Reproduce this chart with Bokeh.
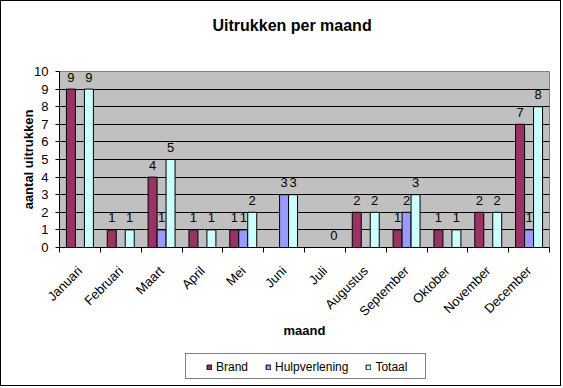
import numpy as np
from bokeh.plotting import figure
from bokeh.layouts import column
from bokeh.models import Range1d, FixedTicker, ColumnDataSource, Legend, LegendItem, Title
from bokeh.transform import dodge
from bokeh.core.properties import value
from bokeh.embed import file_html
from bokeh.resources import INLINE

months = ["Januari", "Februari", "Maart", "April", "Mei", "Juni", "Juli",
          "Augustus", "September", "Oktober", "November", "December"]
brand = [9, 1, 4, 1, 1, None, None, 2, 1, 1, 2, 7]
hulpverlening = [None, None, 1, None, 1, 3, None, None, 2, None, None, 1]
totaal = [9, 1, 5, 1, 2, 3, 0, 2, 3, 1, 2, 8]
series_names = ["Brand", "Hulpverlening", "Totaal"]
series_colors = ["#993366", "#9999FF", "#CCFFFF"]
y_ticks = list(range(0, 11))

FONT = "Liberation Sans"

p = figure(width=559, height=344, x_range=Range1d(0, len(months)), y_range=Range1d(0, 10),
           output_backend="svg", toolbar_location=None,
           min_border_left=58, min_border_right=11, min_border_top=70, min_border_bottom=98,
           background_fill_color="#C0C0C0", border_fill_color="white")
p.outline_line_color = "#808080"
p.outline_line_width = 1

# spacer + title
p.add_layout(Title(text=" ", text_font_size="13px", standoff=21), "above")
p.add_layout(Title(text="Uitrukken per maand", align="left", offset=153, standoff=0,
                   text_font=FONT, text_font_size="16px", text_font_style="bold",
                   text_color="black"), "above")

pos = np.arange(len(months)) + 0.5
bw = 0.22
offsets = [-bw, 0.0, bw]
for vals, name, col, off in zip([brand, hulpverlening, totaal], series_names, series_colors, offsets):
    top = np.array([np.nan if v is None else v for v in vals], dtype=float)
    src = ColumnDataSource(dict(x=pos, top=top))
    p.vbar(x=dodge("x", off, range=p.x_range), top="top", width=bw, bottom=0, source=src,
           fill_color=col, line_color="black", line_width=1)
    mask = ~np.isnan(top)
    lsrc = ColumnDataSource(dict(x=pos[mask], top=top[mask],
                                 label=[str(int(v)) for v in top[mask]]))
    p.text(x=dodge("x", off, range=p.x_range), y="top", text="label", source=lsrc,
           text_align="center", text_baseline="alphabetic", y_offset=-12,
           text_font=value(FONT), text_font_size="13px", text_color="black")

# axes
p.xaxis.ticker = FixedTicker(ticks=list(pos), minor_ticks=list(range(len(months) + 1)))
p.xaxis.major_label_overrides = {float(x): m for x, m in zip(pos, months)}
p.xaxis.major_tick_out = 0
p.xaxis.major_tick_in = 0
p.xaxis.minor_tick_out = 5
p.xaxis.minor_tick_in = 0
p.xaxis.minor_tick_line_color = "black"
p.xaxis.major_label_orientation = np.pi / 4
p.xaxis.major_label_standoff = 16
p.xaxis.axis_label = "maand"
p.xaxis.axis_label_standoff = -4

p.yaxis.ticker = FixedTicker(ticks=y_ticks, minor_ticks=[])
p.yaxis.major_tick_out = 4
p.yaxis.major_tick_in = 0
p.yaxis.major_label_standoff = 7
p.yaxis.axis_label = "aantal uitrukken"
p.yaxis.axis_label_standoff = -5

for ax in (p.xaxis[0], p.yaxis[0]):
    ax.axis_line_color = "black"
    ax.major_tick_line_color = "black"
    ax.major_label_text_font = FONT
    ax.major_label_text_font_size = "13px"
    ax.major_label_text_color = "black"
    ax.axis_label_text_font = FONT
    ax.axis_label_text_font_size = "13px"
    ax.axis_label_text_font_style = "bold"
    ax.axis_label_text_color = "black"

p.xgrid.visible = False
p.ygrid.ticker = FixedTicker(ticks=y_ticks[1:-1])
p.ygrid.grid_line_color = "black"
p.ygrid.grid_line_width = 1

# legend strip (separate figure below the chart; its frame is aligned with the chart's)
lp = figure(width=559, height=40, x_range=Range1d(0, 1), y_range=Range1d(0, 1),
            output_backend="svg", toolbar_location=None, min_border=0,
            x_axis_location=None, y_axis_location=None,
            background_fill_color="white", border_fill_color="white")
lp.outline_line_color = None
lp.grid.visible = False

proxies = [lp.vbar(x=[np.nan], top=[np.nan], width=0.1, fill_color=c, line_color="black",
                   line_width=1) for c in series_colors]
box = lp.vbar(x=[np.nan], top=[np.nan], width=0.1, fill_alpha=0, line_alpha=0)

box_legend = Legend(items=[LegendItem(label=" ", renderers=[box])], location=(126, 6),
                    orientation="horizontal", padding=5, margin=0, glyph_width=1, glyph_height=6,
                    label_standoff=0, label_width=228, label_height=14,
                    label_text_font=FONT, label_text_font_size="11px",
                    border_line_color="black", border_line_width=1,
                    background_fill_color="white", background_fill_alpha=1)
lp.add_layout(box_legend)

legend = Legend(items=[LegendItem(label=n, renderers=[r]) for n, r in zip(series_names, proxies)],
                location=(147, 11), orientation="horizontal", padding=0, margin=0,
                spacing=17, glyph_width=6, glyph_height=6, label_standoff=4, label_height=14,
                label_text_font=FONT, label_text_font_size="12px", label_text_color="black",
                border_line_color=None, background_fill_alpha=0)
lp.add_layout(legend)

layout = column(p, lp, spacing=0)
layout.styles = {"border": "1px solid black"}

open("out.html", "w").write(file_html(layout, INLINE))
